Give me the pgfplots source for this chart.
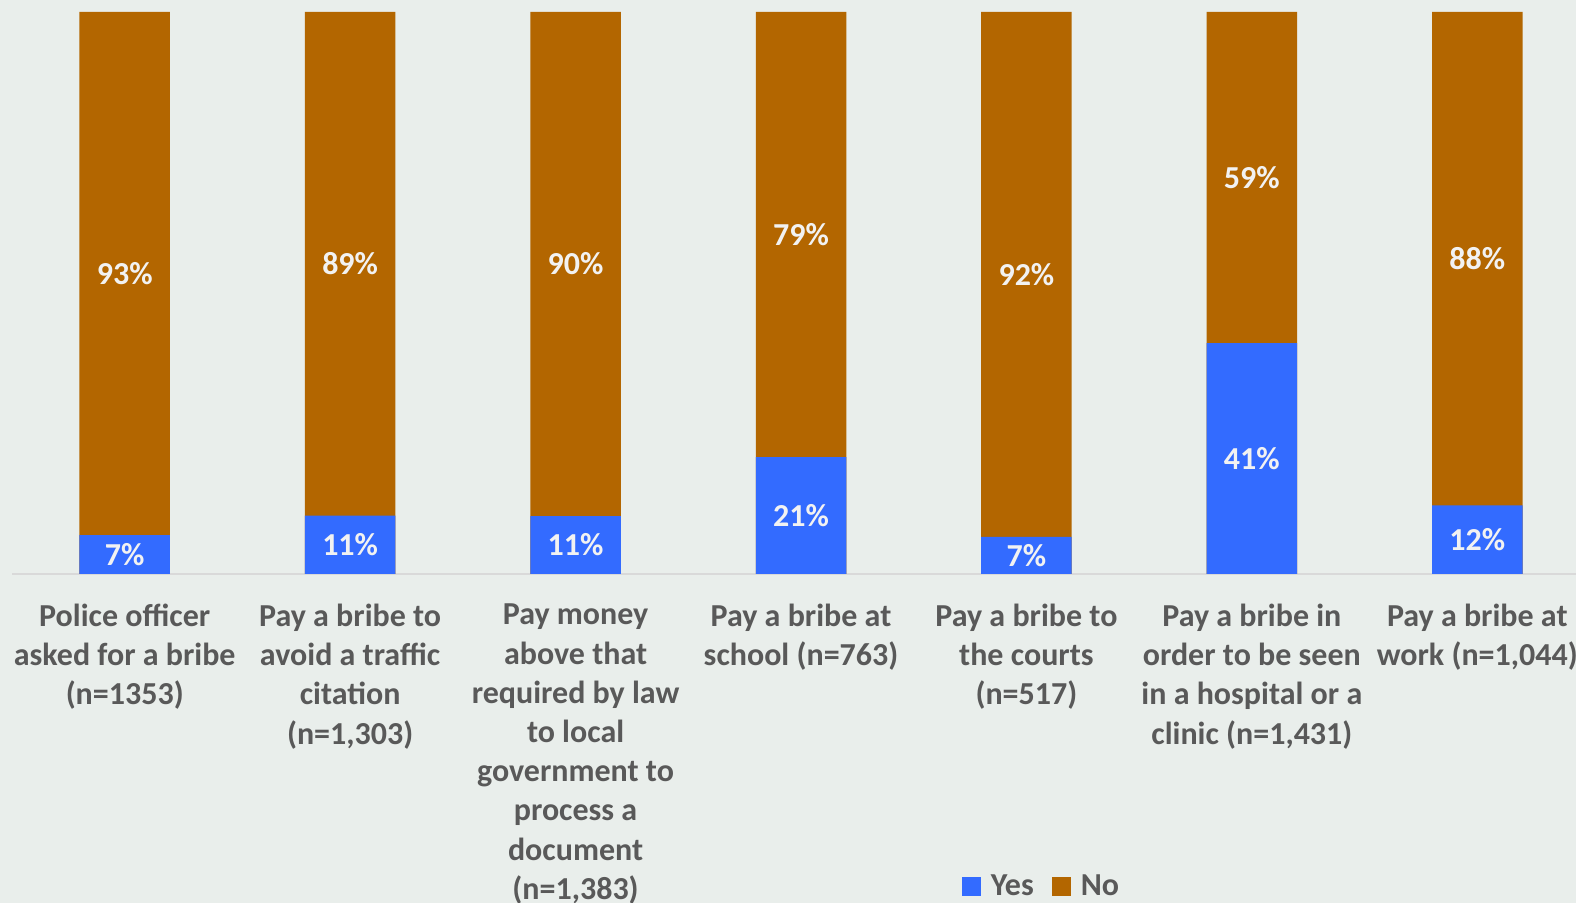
\documentclass[border=0pt]{standalone}
\usepackage{fontspec}
\setmainfont{Carlito}
\usepackage{pgfplots}
\usepackage{pgfplotstable}
\pgfplotsset{compat=1.18}

\definecolor{bgc}{RGB}{233,238,235}
\definecolor{yesc}{RGB}{51,107,255}
\definecolor{noc}{RGB}{179,102,0}
\definecolor{labc}{RGB}{89,89,89}
\definecolor{axc}{RGB}{217,217,217}
\definecolor{barlab}{RGB}{242,242,242}

% yh = height of the blue part as drawn (100% stacked), yes/no = printed percentages
\pgfplotstableread{
x yh   yes no
0 6.9  7  93
1 10.4 11 89
2 10.3 11 90
3 20.8 21 79
4 6.6  7  92
5 41.1 41 59
6 12.2 12 88
}\bribes

\begin{document}
\begin{tikzpicture}
\useasboundingbox (0,0) rectangle (788pt,451.5pt);
\fill[bgc] (0,0) rectangle (788pt,451.5pt);
\begin{axis}[
    at={(6pt,164.5pt)}, anchor=south west,
    scale only axis,
    width=789pt, height=281pt,
    xmin=-0.5, xmax=6.5,
    ymin=0, ymax=100,
    ybar, bar width=45.25pt, bar shift=0pt,
    hide y axis,
    axis x line*=bottom,
    x axis line style={draw=axc, line width=0.8pt, -},
    xtick=data, major tick length=0pt,
    xticklabels={
        {Police officer\\asked for a bribe\\(n=1353)},
        {Pay a bribe to\\avoid a traffic\\citation\\(n=1,303)},
        {Pay money\\above that\\required by law\\to local\\government to\\process a\\document\\(n=1,383)},
        {Pay a bribe at\\school (n=763)},
        {Pay a bribe to\\the courts\\(n=517)},
        {Pay a bribe in\\order to be seen\\in a hospital or a\\clinic (n=1,431)},
        {Pay a bribe at\\work (n=1,044)}},
    xticklabel style={align=center, text=labc, anchor=north, yshift=-11.5pt,
        font=\bfseries\fontsize{16}{19.6}\selectfont},
    legend columns=2,
    legend image code/.code={\fill[#1] (0pt,-4.75pt) rectangle (9.5pt,4.75pt);},
    legend style={at={(0.653,-0.556)}, anchor=center, draw=none, fill=none,
        text=labc, font=\bfseries\fontsize{16}{19.6}\selectfont,
        /tikz/every odd column/.append style={column sep=3pt},
        /tikz/every even column/.append style={column sep=7pt}},
    legend cell align=left,
]
% 100% stacked: orange spans the whole bar, blue is drawn over it
\addplot[fill=noc, draw=none, forget plot] table[x=x, y expr=100] {\bribes};
\addplot[fill=yesc, draw=none] table[x=x, y=yh] {\bribes};
\addlegendentry{Yes}
\addlegendimage{fill=noc, draw=none}
\addlegendentry{No}

\addplot[sharp plot, draw=none, forget plot,
    nodes near coords={\pgfplotspointmeta\%}, point meta=explicit symbolic,
    every node near coord/.style={anchor=center, text=barlab,
        font=\bfseries\fontsize{16}{19.6}\selectfont}]
    table[x=x, y expr=\thisrow{yh}/2, meta=yes] {\bribes};
\addplot[sharp plot, draw=none, forget plot,
    nodes near coords={\pgfplotspointmeta\%}, point meta=explicit symbolic,
    every node near coord/.style={anchor=center, text=barlab,
        font=\bfseries\fontsize{16}{19.6}\selectfont}]
    table[x=x, y expr=50+\thisrow{yh}/2, meta=no] {\bribes};
\end{axis}
\end{tikzpicture}
\end{document}
